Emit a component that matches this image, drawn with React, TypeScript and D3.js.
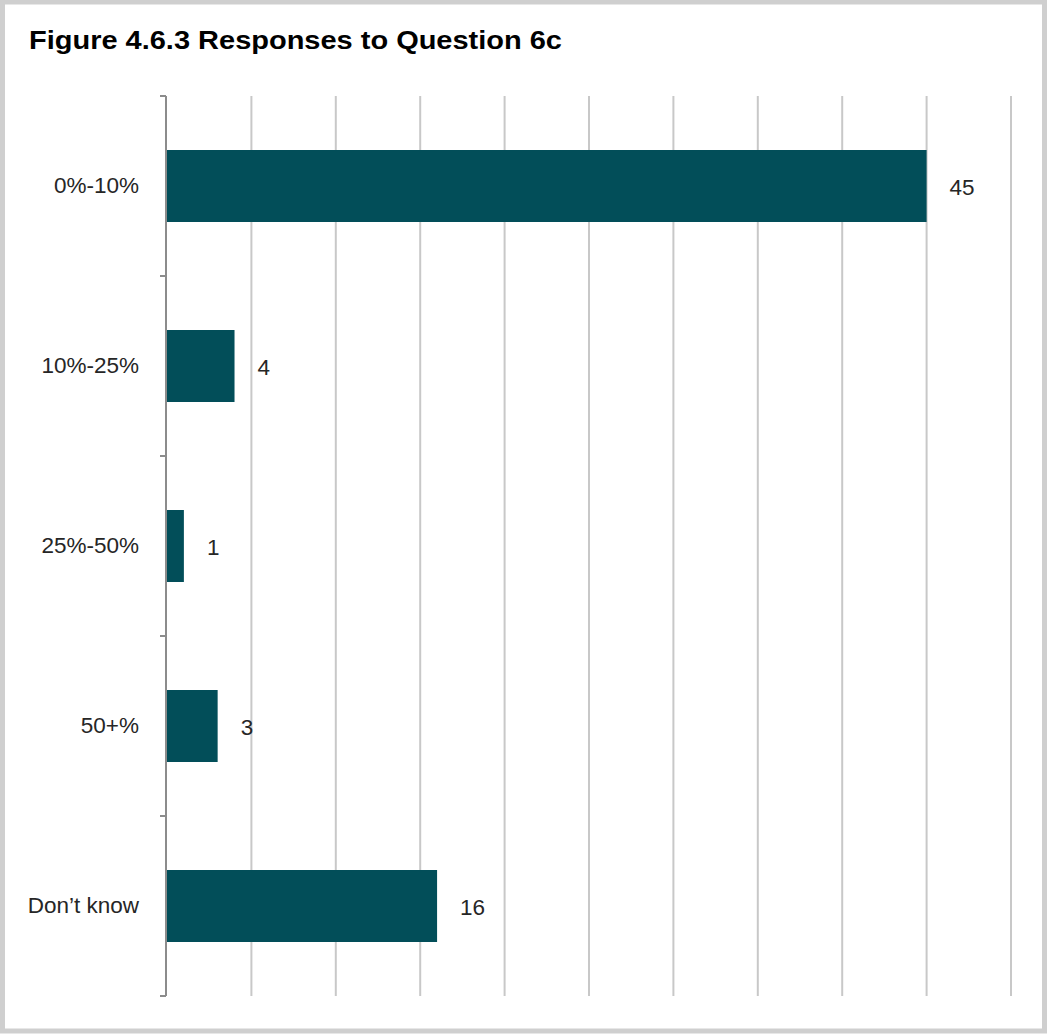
import React from "react";
import * as d3 from "d3";

const categories = ["0%-10%", "10%-25%", "25%-50%", "50+%", "Don\u2019t know"];
const values = [45, 4, 1, 3, 16];
const gridTicks = [0, 5, 10, 15, 20, 25, 30, 35, 40, 45, 50];
const title = "Figure 4.6.3 Responses to Question 6c";

export default function App() {
  const W = 1047, H = 1034;
  const left = 167, right = 1011, top = 96, bottom = 996;
  const x = d3.scaleLinear().domain([0, 50]).range([left, right]);
  const y = d3.scaleBand<string>().domain(categories).range([top, bottom]).paddingInner(0.6).paddingOuter(0.3);
  const step = y.step();
  const boundaries = d3.range(categories.length + 1).map((i) => top + i * step);
  const font = "Arial, 'Liberation Sans', sans-serif";
  return (
    <svg width={W} height={H} style={{ position: "absolute", left: 0, top: 0, background: "#fff" }}>
      <rect x={2.5} y={2} width={W - 5} height={H - 5} fill="#fff" stroke="#cfcfcf" strokeWidth={5} />
      <text x={29} y={49} fontFamily={font} fontWeight="bold" fontSize={25.5} textLength={533} lengthAdjust="spacingAndGlyphs" fill="#000">{title}</text>
      {gridTicks.slice(1).map((t) => (
        <line key={t} x1={x(t)} x2={x(t)} y1={top} y2={bottom} stroke="#c8c8c8" strokeWidth={2} />
      ))}
      {categories.map((c, i) => (
        <rect key={c} x={x(0)} y={y(c)!} width={x(values[i]) - x(0)} height={y.bandwidth()} fill="#024e59" />
      ))}
      <line x1={left - 1} x2={left - 1} y1={top} y2={bottom} stroke="#8c8c8c" strokeWidth={2} />
      {boundaries.map((b, i) => (
        <line key={i} x1={left - 7} x2={left - 1} y1={b} y2={b} stroke="#8c8c8c" strokeWidth={2} />
      ))}
      {categories.map((c, i) => (
        <text key={c} x={139} y={y(c)! + y.bandwidth() / 2 - 1} dy="0.35em" textAnchor="end" fontFamily={font} fontSize={22.5} fill="#262626">{c}</text>
      ))}
      {categories.map((c, i) => (
        <text key={c} x={x(values[i]) + 23} y={y(c)! + y.bandwidth() / 2 + 1} dy="0.35em" textAnchor="start" fontFamily={font} fontSize={22.5} fill="#262626">{values[i]}</text>
      ))}
    </svg>
  );
}
